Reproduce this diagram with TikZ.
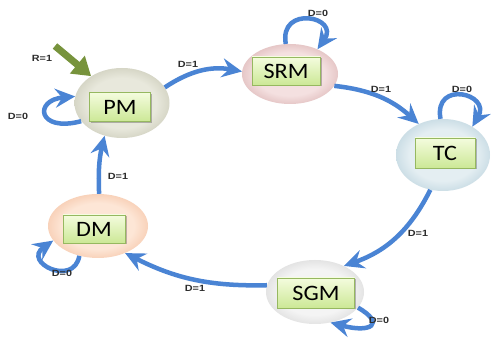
\documentclass[tikz,border=0pt]{standalone}
\usepackage{fontspec}
\setmainfont{Liberation Sans}
\newfontfamily\boxfont{Carlito}
\usetikzlibrary{arrows.meta,shapes.geometric,shadows}

\definecolor{arrblue}{RGB}{74,132,212}
\definecolor{olivegr}{RGB}{119,147,60}
\definecolor{lblgray}{RGB}{45,45,45}
\definecolor{boxtop}{RGB}{244,252,222}
\definecolor{boxbot}{RGB}{204,232,150}
\definecolor{boxborder}{RGB}{150,184,96}

\definecolor{pmin}{RGB}{232,232,220}
\definecolor{pmout}{RGB}{166,166,140}
\definecolor{srmin}{RGB}{244,224,224}
\definecolor{srmout}{RGB}{192,132,132}
\definecolor{tcin}{RGB}{228,238,242}
\definecolor{tcout}{RGB}{140,180,198}
\definecolor{dmin}{RGB}{253,230,214}
\definecolor{dmout}{RGB}{236,156,110}
\definecolor{sgin}{RGB}{244,244,244}
\definecolor{sgout}{RGB}{184,184,184}

\pgfdeclareradialshading{shPM}{\pgfpoint{0bp}{0bp}}{color(0bp)=(pmin); color(18bp)=(pmin); color(44bp)=(pmout); color(50bp)=(pmout!70!white); color(70bp)=(white)}
\pgfdeclareradialshading{shSRM}{\pgfpoint{0bp}{0bp}}{color(0bp)=(srmin); color(18bp)=(srmin); color(44bp)=(srmout); color(50bp)=(srmout!70!white); color(70bp)=(white)}
\pgfdeclareradialshading{shTC}{\pgfpoint{0bp}{0bp}}{color(0bp)=(tcin); color(18bp)=(tcin); color(44bp)=(tcout); color(50bp)=(tcout!70!white); color(70bp)=(white)}
\pgfdeclareradialshading{shDM}{\pgfpoint{0bp}{0bp}}{color(0bp)=(dmin); color(18bp)=(dmin); color(44bp)=(dmout); color(50bp)=(dmout!70!white); color(70bp)=(white)}
\pgfdeclareradialshading{shSG}{\pgfpoint{0bp}{0bp}}{color(0bp)=(sgin); color(18bp)=(sgin); color(44bp)=(sgout); color(50bp)=(sgout!70!white); color(70bp)=(white)}

\tikzset{
  ell/.style={ellipse, inner sep=0pt},
  statebox/.style={draw=boxborder, line width=0.8pt, top color=boxtop, bottom color=boxbot,
    inner sep=0pt, font=\boxfont\fontsize{22}{24}\selectfont,
    drop shadow={shadow xshift=1.5pt, shadow yshift=-1.5pt, fill=black, opacity=0.25}},
  arr/.style={draw=arrblue, line width=4.5pt,
    -{Stealth[length=20pt,width=19pt,inset=7pt]}},
  lbl/.style={font=\fontsize{9}{10}\selectfont\bfseries, text=lblgray, inner sep=0pt}
}
\newcommand{\wlbl}[1]{\scalebox{1.2}[1]{#1}}
\newcommand{\wbox}[1]{\scalebox{1.1}[1]{#1}}

\begin{document}
\begin{tikzpicture}[x=1pt,y=1pt]
\useasboundingbox (0,0) rectangle (498,350);
\fill[white] (0,0) rectangle (498,350);

% ellipses
\node[ell, shading=shPM, minimum width=95pt, minimum height=70pt] (PM) at (122,247) {};
\node[ell, shading=shSRM, minimum width=96pt, minimum height=60pt] (SRM) at (290,276) {};
\node[ell, shading=shTC, minimum width=94pt, minimum height=72pt] (TC) at (443,195) {};
\node[ell, shading=shDM, minimum width=100pt, minimum height=64pt] (DM) at (98,124) {};
\node[ell, shading=shSG, minimum width=98pt, minimum height=64pt] (SGM) at (315,58) {};

% boxes
\node[statebox, minimum width=61pt, minimum height=29pt] (PMb) at (120,243) {\wbox{PM}};
\node[statebox, minimum width=68pt, minimum height=28pt] (SRMb) at (286,279) {\wbox{SRM}};
\node[statebox, minimum width=60pt, minimum height=30pt] (TCb) at (445,197) {\wbox{TC}};
\node[statebox, minimum width=62pt, minimum height=28pt] (DMb) at (94,121) {\wbox{DM}};
\node[statebox, minimum width=77pt, minimum height=30pt] (SGMb) at (316,57) {\wbox{SGM}};

% transitions
\draw[arr] (PM.20) to[bend left=22] (SRM.177);
\draw[arr] (SRM.-15) to[bend left=18] (TC.128);
\draw[arr] (TC.250) to[bend left=22] (SGM.42);
\draw[arr] (SGM.172) to[bend left=14] (DM.-45);
\draw[arr] (DM.88) to[bend left=8] (PM.242);

% self loops
\draw[arr] (PM.204) .. controls +(195:45) and +(185:42) .. (PM.172);
\draw[arr] (SRM.98) .. controls +(100:40) and +(55:40) .. (SRM.42);
\draw[arr] (TC.94) .. controls +(100:40) and +(60:38) .. (TC.44);
\draw[arr] (DM.238) .. controls +(260:32) and +(215:38) .. (DM.198);
\draw[arr] (SGM.340) .. controls +(-30:32) and +(-15:42) .. (SGM.297);

% reset arrow
\coordinate (R) at (55,304);
\draw[draw=olivegr, line width=7pt, -{Triangle[length=18pt,width=22pt]}] (R) -- (PM.139);

% labels
\node[lbl] (l1) at (188,286) {\wlbl{D=1}};
\node[lbl] (l2) at (381,261) {\wlbl{D=1}};
\node[lbl] (l3) at (418,117) {\wlbl{D=1}};
\node[lbl] (l4) at (195,62) {\wlbl{D=1}};
\node[lbl] (l5) at (118,174) {\wlbl{D=1}};
\node[lbl] (l6) at (18,234) {\wlbl{D=0}};
\node[lbl] (l7) at (318,337) {\wlbl{D=0}};
\node[lbl] (l8) at (462,261) {\wlbl{D=0}};
\node[lbl] (l9) at (62,77) {\wlbl{D=0}};
\node[lbl] (l10) at (379,30) {\wlbl{D=0}};
\node[lbl] (l11) at (42,292) {\wlbl{R=1}};
\end{tikzpicture}
\end{document}
